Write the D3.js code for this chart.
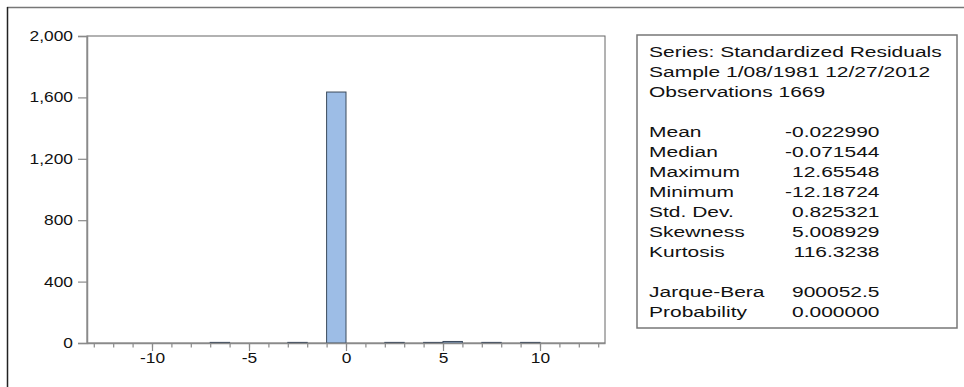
<!DOCTYPE html>
<html>
<head>
<meta charset="utf-8">
<script src="https://cdn.jsdelivr.net/npm/d3@7"></script>
<style>
  html, body { margin: 0; padding: 0; background: #fff; }
  svg { display: block; font-family: "Liberation Sans", Arial, sans-serif; }
</style>
</head>
<body>
<svg id="chart" width="964" height="387"></svg>
<script>
// Histogram bins (lower edge, upper edge) and counts
const binStarts = [-7, -3, -1, 2, 4, 5, 7, 9];
const binEnds   = [-6, -2,  0, 3, 5, 6, 8, 10];
const binCounts = [ 4,  4, 1635, 4, 4, 10, 4, 4];

const yTicks = [0, 400, 800, 1200, 1600, 2000];
const xMajorTicks = [-10, -5, 0, 5, 10];
const xMinorTicks = d3.range(-13, 14);

const statLabels = ["Mean", "Median", "Maximum", "Minimum", "Std. Dev.", "Skewness", "Kurtosis", "", "Jarque-Bera", "Probability"];
const statValues = ["-0.022990", "-0.071544", "12.65548", "-12.18724", "0.825321", "5.008929", "116.3238", "", "900052.5", "0.000000"];
const headerLines = ["Series: Standardized Residuals", "Sample 1/08/1981 12/27/2012", "Observations 1669"];

const svg = d3.select("#chart");
const axisColor = "#8a8a8a";
const axSX = 1.24;   // horizontal stretch of axis labels
const stSX = 1.4;    // horizontal stretch of stats text

// outer frame (top & left edges)
svg.append("line").attr("x1", 7).attr("x2", 964).attr("y1", 7.5).attr("y2", 7.5)
  .attr("stroke", "#777").attr("stroke-width", 1.5);
svg.append("line").attr("x1", 7.5).attr("x2", 7.5).attr("y1", 7).attr("y2", 387)
  .attr("stroke", "#222").attr("stroke-width", 1.5);

const x = d3.scaleLinear().domain([-13.35, 13.35]).range([87, 605]);
const y = d3.scaleLinear().domain([0, 2000]).range([343, 36]);

// plot frame
svg.append("rect")
  .attr("x", x.range()[0]).attr("y", y.range()[1])
  .attr("width", x.range()[1] - x.range()[0])
  .attr("height", y.range()[0] - y.range()[1])
  .attr("fill", "none").attr("stroke", "#666").attr("stroke-width", 1);

// bars
const bins = binStarts.map((s, i) => ({ x0: s, x1: binEnds[i], n: binCounts[i] }));
svg.append("g").selectAll("rect").data(bins).join("rect")
  .attr("x", d => x(d.x0))
  .attr("width", d => x(d.x1) - x(d.x0))
  .attr("y", d => y(d.n))
  .attr("height", d => y(0) - y(d.n))
  .attr("fill", "#9dbde6")
  .attr("stroke", "#3b4a5c")
  .attr("stroke-width", 1);

// y axis
const gy = svg.append("g").attr("transform", `translate(${x.range()[0]},0)`)
  .call(d3.axisLeft(y).tickValues(yTicks).tickFormat(d3.format(",")).tickSize(9).tickPadding(5));
gy.select(".domain").attr("stroke", axisColor).attr("stroke-width", 1.5);
gy.selectAll(".tick line").attr("stroke", axisColor).attr("stroke-width", 1.2);
gy.selectAll(".tick text")
  .attr("font-size", 14).attr("fill", "#111")
  .attr("font-family", "Liberation Sans, Arial, sans-serif")
  .attr("x", -14 / axSX)
  .attr("transform", `scale(${axSX},1)`);

// x axis minor ticks
const gxm = svg.append("g").attr("transform", `translate(0,${y.range()[0]})`)
  .call(d3.axisBottom(x).tickValues(xMinorTicks).tickFormat("").tickSize(4.5).tickSizeOuter(0));
gxm.select(".domain").attr("stroke", axisColor).attr("stroke-width", 1.5);
gxm.selectAll(".tick line").attr("stroke", axisColor).attr("stroke-width", 1.2);

// x axis major ticks
const gx = svg.append("g").attr("transform", `translate(0,${y.range()[0]})`)
  .call(d3.axisBottom(x).tickValues(xMajorTicks).tickFormat(d => String(d)).tickSize(8).tickPadding(2).tickSizeOuter(0));
gx.select(".domain").remove();
gx.selectAll(".tick line").attr("stroke", axisColor).attr("stroke-width", 1.2);
gx.selectAll(".tick text")
  .attr("font-size", 14).attr("fill", "#111")
  .attr("font-family", "Liberation Sans, Arial, sans-serif")
  .attr("transform", `scale(${axSX},1)`);

// statistics box
svg.append("rect").attr("x", 637).attr("y", 35).attr("width", 320).attr("height", 293)
  .attr("fill", "#fff").attr("stroke", "#777").attr("stroke-width", 1.5);

const baseY = 56.7, lh = 20, leftX = 649, rightX = 879.5;
const tg = svg.append("g").attr("font-size", 15).attr("fill", "#111");

headerLines.forEach((t, i) => {
  tg.append("text")
    .attr("transform", `translate(${leftX},${baseY + i * lh}) scale(${stSX},1)`)
    .text(t);
});
statLabels.forEach((t, i) => {
  if (!t) return;
  const yy = baseY + (i + 4) * lh;
  tg.append("text")
    .attr("transform", `translate(${leftX},${yy}) scale(${stSX},1)`)
    .text(t);
  tg.append("text")
    .attr("transform", `translate(${rightX},${yy}) scale(${stSX},1)`)
    .attr("text-anchor", "end")
    .text(statValues[i]);
});
</script>
</body>
</html>
